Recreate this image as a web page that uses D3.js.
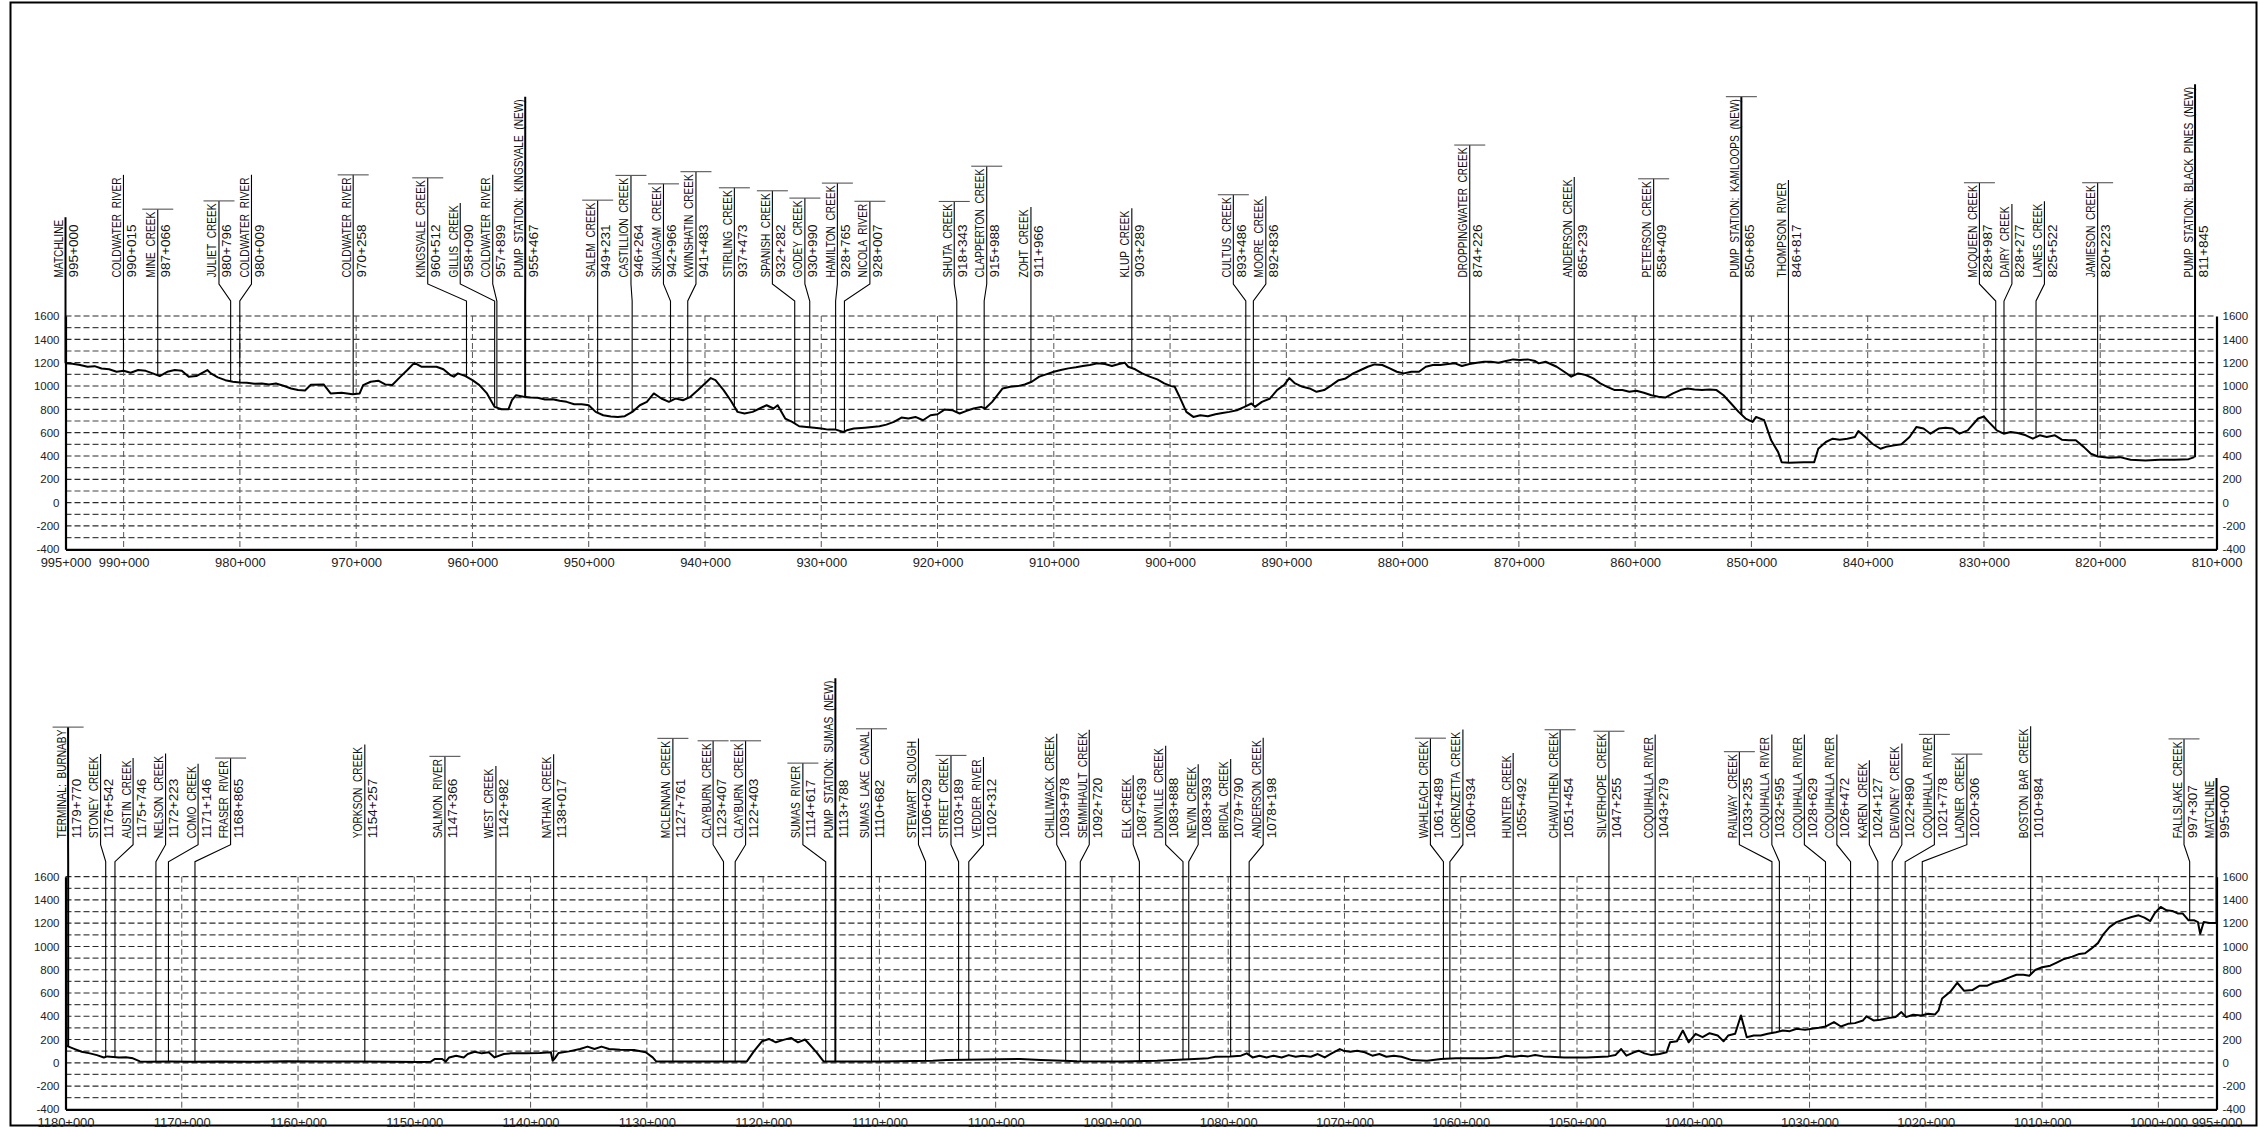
<!DOCTYPE html>
<html><head><meta charset="utf-8">
<script src="https://cdn.jsdelivr.net/npm/d3@7"></script>
<style>
html,body{margin:0;padding:0;background:#fff;}
svg{display:block;font-family:"Liberation Sans",Arial,sans-serif;}
.nm{font-size:13px;fill:#111;white-space:pre;}
.ch{font-size:13.5px;fill:#111;white-space:pre;}
.tick text{fill:#222;}
</style></head><body>
<svg id="chart" width="2260" height="1129"></svg>
<script>
// ---------------- DATA ----------------
const elevTicks = [1600,1400,1200,1000,800,600,400,200,0,-200,-400];
const topTicks = [995,990,980,970,960,950,940,930,920,910,900,890,880,870,860,850,840,830,820,810];
const bottomTicks = [1180,1170,1160,1150,1140,1130,1120,1110,1100,1090,1080,1070,1060,1050,1040,1030,1020,1010,1000,995];

// [name, chainage, bar-on-top flag, station-type flag (1 = fixed station / matchline)]
const topLabels = [
 ["MATCHLINE","995+000",0,1],
 ["COLDWATER  RIVER","990+015",0,0],
 ["MINE  CREEK","987+066",1,0],
 ["JULIET  CREEK","980+796",1,0],
 ["COLDWATER  RIVER","980+009",0,0],
 ["COLDWATER  RIVER","970+258",1,0],
 ["KINGSVALE  CREEK","960+512",1,0],
 ["GILLIS  CREEK","958+090",0,0],
 ["COLDWATER  RIVER","957+899",0,0],
 ["PUMP  STATION:  KINGSVALE  (NEW)","955+467",0,1],
 ["SALEM  CREEK","949+231",1,0],
 ["CASTILLION  CREEK","946+264",1,0],
 ["SKUAGAM  CREEK","942+966",1,0],
 ["KWINSHATIN  CREEK","941+483",1,0],
 ["STIRLING  CREEK","937+473",1,0],
 ["SPANISH  CREEK","932+282",1,0],
 ["GODEY  CREEK","930+990",1,0],
 ["HAMILTON  CREEK","928+765",1,0],
 ["NICOLA  RIVER","928+007",1,0],
 ["SHUTA  CREEK","918+343",1,0],
 ["CLAPPERTON  CREEK","915+988",1,0],
 ["ZOHT  CREEK","911+966",0,0],
 ["KLUP  CREEK","903+289",0,0],
 ["CULTUS  CREEK","893+486",1,0],
 ["MOORE  CREEK","892+836",0,0],
 ["DROPPINGWATER  CREEK","874+226",1,0],
 ["ANDERSON  CREEK","865+239",0,0],
 ["PETERSON  CREEK","858+409",1,0],
 ["PUMP  STATION:  KAMLOOPS  (NEW)","850+865",1,1],
 ["THOMPSON  RIVER","846+817",0,0],
 ["MCQUEEN  CREEK","828+987",1,0],
 ["DAIRY  CREEK","828+277",0,0],
 ["LANES  CREEK","825+522",0,0],
 ["JAMIESON  CREEK","820+223",1,0],
 ["PUMP  STATION:  BLACK  PINES  (NEW)","811+845",0,1]
];

const bottomLabels = [
 ["TERMINAL:  BURNABY","1179+770",1,1],
 ["STONEY  CREEK","1176+542",0,0],
 ["AUSTIN  CREEK","1175+746",0,0],
 ["NELSON  CREEK","1172+223",0,0],
 ["COMO  CREEK","1171+146",0,0],
 ["FRASER  RIVER","1168+865",1,0],
 ["YORKSON  CREEK","1154+257",0,0],
 ["SALMON  RIVER","1147+366",1,0],
 ["WEST  CREEK","1142+982",0,0],
 ["NATHAN  CREEK","1138+017",0,0],
 ["MCLENNAN  CREEK","1127+761",1,0],
 ["CLAYBURN  CREEK","1123+407",1,0],
 ["CLAYBURN  CREEK","1122+403",1,0],
 ["SUMAS  RIVER","1114+617",1,0],
 ["PUMP  STATION:  SUMAS  (NEW)","1113+788",0,1],
 ["SUMAS  LAKE  CANAL","1110+682",1,0],
 ["STEWART  SLOUGH","1106+029",0,0],
 ["STREET  CREEK","1103+189",1,0],
 ["VEDDER  RIVER","1102+312",0,0],
 ["CHILLIWACK  CREEK","1093+978",0,0],
 ["SEMMIHAULT  CREEK","1092+720",0,0],
 ["ELK  CREEK","1087+639",0,0],
 ["DUNVILLE  CREEK","1083+888",0,0],
 ["NEVIN  CREEK","1083+393",0,0],
 ["BRIDAL  CREEK","1079+790",0,0],
 ["ANDERSON  CREEK","1078+198",0,0],
 ["WAHLEACH  CREEK","1061+489",1,0],
 ["LORENZETTA  CREEK","1060+934",0,0],
 ["HUNTER  CREEK","1055+492",0,0],
 ["CHAWUTHEN  CREEK","1051+454",1,0],
 ["SILVERHOPE  CREEK","1047+255",1,0],
 ["COQUIHALLA  RIVER","1043+279",0,0],
 ["RAILWAY  CREEK","1033+235",1,0],
 ["COQUIHALLA  RIVER","1032+595",0,0],
 ["COQUIHALLA  RIVER","1028+629",0,0],
 ["COQUIHALLA  RIVER","1026+472",0,0],
 ["KAREN  CREEK","1024+127",0,0],
 ["DEWDNEY  CREEK","1022+890",0,0],
 ["COQUIHALLA  RIVER","1021+778",1,0],
 ["LADNER  CREEK","1020+306",1,0],
 ["BOSTON  BAR  CREEK","1010+984",0,0],
 ["FALLSLAKE  CREEK","997+307",1,0],
 ["MATCHLINE","995+000",0,1]
];

// [station (km), elevation]
const topProfile = [
[995,1195],[994.4,1190],[993.75,1180],[993.1,1165],[992.5,1170],[991.9,1150],[991.25,1143],[990.6,1122],[990,1130],[989.4,1114],[988.75,1137],[988.1,1130],[987.5,1108],[986.9,1085],[986.25,1122],[985.6,1137],[985,1131],[984.4,1080],[983.75,1085],[982.8,1137],[982.5,1108],[981.9,1074],[981.25,1050],[980.6,1036],[980,1030],[979.4,1028],[978.75,1020],[978.1,1022],[977.5,1013],[976.9,1022],[976.25,1002],[975.6,979],[975,965],[974.4,962],[973.9,1010],[972.8,1013],[972.2,936],[971.25,942],[970.3,930],[969.7,936],[969.4,1008],[968.75,1036],[968.1,1045],[967.5,1013],[966.9,1008],[966.25,1074],[965.6,1137],[965,1198],[964.4,1165],[963.1,1165],[962.5,1143],[961.9,1094],[961.6,1080],[961.25,1108],[960.6,1085],[960,1050],[959.4,1008],[958.75,936],[958.1,821],[957.5,801],[956.9,801],[956.6,878],[956.25,921],[955.6,907],[955,901],[954.4,899],[953.75,884],[953.1,887],[952.5,873],[951.9,864],[951.25,844],[950.6,844],[950,835],[949.4,778],[948.75,749],[948.1,738],[947.5,735],[946.9,741],[946.25,778],[945.6,835],[945,864],[944.4,936],[943.75,893],[943.1,864],[942.5,893],[941.9,878],[941.25,907],[940.6,965],[940,1022],[939.5,1068],[939.1,1050],[938.4,965],[937.8,878],[937.2,778],[936.6,764],[935.9,778],[935.3,807],[934.7,835],[934.1,807],[933.75,835],[933.1,721],[932.5,692],[931.9,655],[931.25,649],[930.6,643],[930,635],[929.4,626],[928.75,626],[928.1,606],[927.8,620],[927.2,635],[926.25,643],[925,655],[924.4,669],[923.75,692],[923.1,729],[922.5,721],[921.9,735],[921.25,706],[920.6,749],[920,758],[919.4,798],[918.75,793],[918.1,764],[917.5,787],[916.9,807],[916.25,821],[915.9,807],[915.3,864],[914.4,979],[913.75,993],[913.1,999],[912.5,1013],[911.9,1036],[911.25,1080],[910.6,1102],[910,1122],[909.4,1137],[908.75,1151],[908.1,1160],[907.5,1171],[906.9,1180],[906.25,1194],[905.6,1188],[905,1171],[904.4,1188],[903.9,1200],[903.6,1165],[903,1143],[902.4,1108],[901.75,1080],[901.1,1057],[900.5,1022],[899.9,999],[899.6,993],[899.25,921],[898.6,778],[898,735],[897.4,749],[896.75,741],[896.1,758],[895.5,769],[894.9,778],[894.25,792],[893.6,821],[893,850],[892.7,821],[892.1,864],[891.4,893],[890.8,965],[890.2,1008],[889.75,1068],[889.25,1022],[888.6,993],[888,979],[887.4,950],[886.75,965],[886.1,1008],[885.5,1050],[884.9,1065],[884.25,1108],[883.6,1137],[883,1165],[882.4,1185],[881.75,1180],[881.1,1151],[880.5,1122],[879.9,1108],[879.25,1122],[878.6,1122],[878,1165],[877.4,1180],[876.75,1180],[876.1,1188],[875.5,1194],[874.9,1171],[874.25,1188],[873.6,1200],[873,1208],[872.4,1208],[871.75,1200],[871.1,1214],[870.5,1228],[869.9,1222],[869.25,1228],[868.6,1214],[868.3,1194],[867.7,1208],[866.75,1165],[866.1,1122],[865.5,1080],[864.9,1108],[864.25,1094],[863.6,1065],[863,1022],[862.4,993],[861.75,965],[861.1,965],[860.5,950],[859.9,959],[859.25,942],[858.6,921],[858,907],[857.4,901],[856.75,936],[856.1,965],[855.5,979],[854.9,970],[854.25,965],[853.6,970],[853,965],[852.4,921],[851.75,850],[851.1,778],[850.5,721],[849.9,692],[849.6,735],[848.9,706],[848.3,534],[847.7,433],[847.4,347],[846.75,341],[845.5,347],[844.6,347],[844.25,462],[843.6,520],[843,548],[842.4,540],[841.75,548],[841.1,563],[840.8,614],[840.2,563],[839.6,505],[838.9,462],[838.3,482],[837.7,491],[837.1,500],[836.4,563],[835.8,649],[835.2,635],[834.6,591],[833.9,635],[833.3,643],[832.7,635],[832.1,591],[831.4,620],[830.5,721],[830,738],[829.6,692],[828.9,620],[828.3,591],[827.7,606],[827.1,597],[826.4,577],[825.8,548],[825.2,577],[824.6,563],[823.9,577],[823.3,540],[822.7,534],[822.1,534],[821.4,476],[820.8,419],[820.2,396],[819.25,385],[818.3,390],[817.4,367],[816.1,362],[814.9,367],[813.6,367],[812.4,373],[811.9,390]
];

const bottomProfile = [
[1180,150],[1179.2,118],[1178.6,95],[1177.9,81],[1177.3,66],[1176.7,46],[1176.4,55],[1175.9,50],[1175.4,46],[1174.8,48],[1174.2,38],[1173.6,12],[1172.9,9],[1171,10],[1169.2,9],[1166.7,12],[1164,8],[1161,14],[1158,12],[1155,10],[1152,8],[1149.5,6],[1148.6,9],[1148.25,32],[1147.6,32],[1147.3,10],[1147,46],[1146.4,61],[1145.75,46],[1145.4,75],[1144.8,95],[1144.2,81],[1143.6,90],[1143.1,46],[1142.3,75],[1141.7,81],[1140.4,81],[1139.2,84],[1138.25,90],[1138.1,17],[1137.9,40],[1137.6,84],[1136.7,98],[1135.75,118],[1135.1,139],[1134.5,118],[1133.9,139],[1133.25,118],[1132.3,113],[1131.1,110],[1130.1,90],[1129.5,46],[1129.2,12],[1125,10],[1121.4,12],[1120.75,104],[1120.1,185],[1119.5,205],[1118.9,176],[1118.25,197],[1117.6,214],[1117,176],[1116.4,200],[1116.1,168],[1115.4,90],[1114.8,12],[1110,10],[1105.4,17],[1104.2,23],[1101.1,29],[1097.9,32],[1096.1,23],[1093,14],[1089.2,12],[1086.1,17],[1082.9,32],[1081.7,40],[1081.1,52],[1079.8,55],[1078.9,61],[1078.4,81],[1077.9,46],[1077.3,61],[1076.7,46],[1076.1,61],[1075.4,46],[1074.8,66],[1074.2,52],[1073.6,61],[1072.9,52],[1072.3,75],[1071.7,46],[1071.1,81],[1070.4,118],[1070.1,104],[1069.5,95],[1068.9,104],[1068.25,90],[1067.6,61],[1067,75],[1066.4,52],[1065.75,61],[1065.1,52],[1064.2,23],[1062.9,17],[1061.7,32],[1060.4,38],[1059.2,38],[1057.9,40],[1056.7,46],[1056.1,61],[1055.4,52],[1054.8,61],[1054.2,55],[1053.6,66],[1052.9,55],[1052.3,52],[1051.1,46],[1049.2,46],[1047.3,55],[1046.7,66],[1046.2,118],[1045.75,61],[1045.1,90],[1044.7,104],[1044.2,81],[1043.6,66],[1042.9,75],[1042.3,90],[1042,176],[1041.4,185],[1040.9,277],[1040.4,176],[1039.8,249],[1039.2,220],[1038.6,254],[1037.9,234],[1037.4,185],[1037,234],[1036.4,249],[1035.9,407],[1035.4,220],[1034.8,234],[1034.2,234],[1033.6,249],[1032.9,263],[1032.3,277],[1031.7,272],[1031.1,292],[1030.4,283],[1029.8,292],[1029.2,301],[1028.6,312],[1027.9,350],[1027.3,312],[1026.7,335],[1026.1,341],[1025.4,364],[1025.1,399],[1024.5,364],[1023.9,370],[1023.25,384],[1022.6,393],[1022.1,436],[1021.7,393],[1021.1,413],[1020.4,407],[1019.8,422],[1019.2,416],[1018.9,451],[1018.6,552],[1017.9,610],[1017.3,688],[1016.7,619],[1016,625],[1015.4,662],[1014.75,662],[1014.1,691],[1013.5,705],[1012.8,734],[1012.2,757],[1011.6,757],[1011.1,749],[1010.6,798],[1010,821],[1009.3,835],[1008.7,864],[1008.1,893],[1007.4,913],[1006.8,936],[1006.3,942],[1005.8,979],[1005.2,1029],[1004.7,1109],[1004.2,1167],[1003.6,1209],[1003,1231],[1002.3,1254],[1001.7,1268],[1001.2,1248],[1000.7,1219],[1000.3,1288],[999.8,1340],[999.3,1311],[998.8,1306],[998.3,1283],[997.9,1283],[997.4,1225],[996.9,1225],[996.6,1210],[996.4,1109],[996.1,1210],[995.6,1202],[995,1202]
];

// ---------------- DRAWING ----------------
const svg = d3.select('#chart');
svg.append('rect').attr('x',10.5).attr('y',2.5).attr('width',2246).attr('height',1123)
   .attr('fill','none').attr('stroke','#000').attr('stroke-width',2);

const X0 = 65.5, X1 = 2216.5;
const panels = [
  {domain:[995,810], ticks:topTicks, labels:topLabels, profile:topProfile, yTop:316, yBot:549.3},
  {domain:[1180,995], ticks:bottomTicks, labels:bottomLabels, profile:bottomProfile, yTop:876.7, yBot:1109.3}
];

const fmtCh = s => { const k=Math.floor(s+1e-9); const m=Math.round((s-k)*1000); return k+"+"+String(m).padStart(3,"0"); };
const parseCh = c => { const [a,b]=c.split("+"); return +a + (+b)/1000; };

function layout(targets, weights, gap){
  const n = targets.length;
  function blockC(bl){ let sw=0, swt=0; for(let i=bl.a;i<=bl.b;i++){ sw+=weights[i]; swt+=weights[i]*(targets[i]-gap*(i-bl.a)); } return swt/sw; }
  const blocks=[];
  for(let i=0;i<n;i++){
    blocks.push({a:i,b:i});
    while(blocks.length>1){
      const B=blocks[blocks.length-1], A=blocks[blocks.length-2];
      if(blockC(B) < blockC(A) + gap*(A.b-A.a+1)){ blocks.pop(); blocks.pop(); blocks.push({a:A.a,b:B.b}); }
      else break;
    }
  }
  const pos=new Array(n);
  blocks.forEach(bl=>{ const c=blockC(bl); for(let i=bl.a;i<=bl.b;i++) pos[i]=c+gap*(i-bl.a); });
  return pos;
}

panels.forEach(p=>{
  const x = d3.scaleLinear().domain(p.domain).range([X0,X1]);
  const y = d3.scaleLinear().domain([-400,1600]).range([p.yBot,p.yTop]);
  const g = svg.append('g');

  // horizontal dashed grid
  const hv = d3.range(-300,1601,100);
  g.selectAll('line.hg').data(hv).join('line').attr('class','hg')
    .attr('x1',X0).attr('x2',X1).attr('y1',d=>y(d)).attr('y2',d=>y(d))
    .attr('stroke',d=>d%200===0?'#2a2a2a':'#444').attr('stroke-width',1.2)
    .attr('stroke-dasharray','6,3');
  // vertical dashed grid
  const vv = p.ticks.filter(t=>t!==p.domain[0] && t!==p.domain[1]);
  g.selectAll('line.vg').data(vv).join('line').attr('class','vg')
    .attr('x1',d=>x(d)).attr('x2',d=>x(d)).attr('y1',y(1600)).attr('y2',y(-400))
    .attr('stroke','#555').attr('stroke-width',1).attr('stroke-dasharray','6,3');

  // axes
  const axL = g.append('g').attr('transform',`translate(${X0},0)`)
    .call(d3.axisLeft(y).tickValues(elevTicks).tickSize(0).tickPadding(6).tickFormat(d=>String(d)));
  const axR = g.append('g').attr('transform',`translate(${X1},0)`)
    .call(d3.axisRight(y).tickValues(elevTicks).tickSize(0).tickPadding(6).tickFormat(d=>String(d)));
  const axB = g.append('g').attr('transform',`translate(0,${p.yBot})`)
    .call(d3.axisBottom(x).tickValues(p.ticks).tickSize(0).tickPadding(9).tickFormat(fmtCh));
  [axL,axR,axB].forEach(a=>{
    a.select('.domain').attr('stroke','#000').attr('stroke-width',2.2);
    a.selectAll('text').attr('font-family','"Liberation Sans",Arial,sans-serif').attr('font-size',11.5).attr('fill','#222');
  });
  axB.selectAll('text').attr('font-size',12).attr('transform','scale(1.08,1)');

  // profile interpolation
  const prof = p.profile;
  const elevAt = s => {
    for(let i=0;i<prof.length-1;i++){
      const a=prof[i], b=prof[i+1];
      if(s<=a[0]+1e-9 && s>=b[0]-1e-9){ const t=(a[0]-s)/((a[0]-b[0])||1); return a[1]+(b[1]-a[1])*t; }
    }
    return s>prof[0][0]?prof[0][1]:prof[prof.length-1][1];
  };

  // labels
  const stations = p.labels.map(l=>parseCh(l[1]));
  const targets = stations.map(s=>x(s));
  const weights = p.labels.map(l=>l[3]?1000:1);
  const pos = layout(targets, weights, 32.5);
  const ys = p.yTop - 38.5;
  const lg = g.append('g');
  p.labels.forEach((l,i)=>{
    const lx = pos[i], tx = targets[i];
    const nm = lg.append('text').attr('class','nm').attr('xml:space','preserve')
      .attr('transform',`translate(${lx-2.5},${ys}) rotate(-90) scale(0.78,1)`).text(l[0]);
    const ch = lg.append('text').attr('class','ch').attr('xml:space','preserve')
      .attr('transform',`translate(${lx+12.5},${ys}) rotate(-90)`).text(l[1]);
    const len = Math.max(nm.node().getComputedTextLength()*0.78, ch.node().getComputedTextLength());
    const top = ys - len - 2.5;
    const ey = y(elevAt(stations[i]));
    const path = d3.path();
    path.moveTo(lx, top);
    path.lineTo(lx, p.yTop-32);
    path.lineTo(tx, p.yTop-15);
    path.lineTo(tx, ey);
    lg.append('path').attr('d',path.toString()).attr('fill','none')
      .attr('stroke','#000').attr('stroke-width',l[3]?2:1.1);
    if(l[2]){
      lg.append('line').attr('x1',lx-15.5).attr('x2',lx+15.5).attr('y1',top).attr('y2',top)
        .attr('stroke','#555').attr('stroke-width',1.1);
    }
  });

  // profile line
  g.append('path').datum(prof)
    .attr('d', d3.line().x(d=>x(d[0])).y(d=>y(d[1])))
    .attr('fill','none').attr('stroke','#000').attr('stroke-width',2).attr('stroke-linejoin','round');
});
</script>
</body></html>
